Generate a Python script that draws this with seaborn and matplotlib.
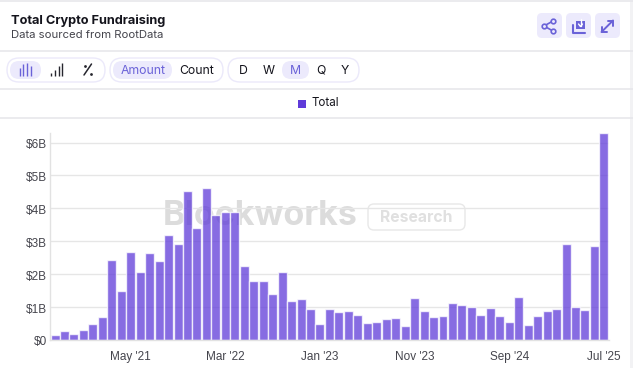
"""
Total Crypto Fundraising, monthly bars with the dashboard header around them
"""

import matplotlib
matplotlib.use('Agg')
import matplotlib.pyplot as plt
from matplotlib.patches import FancyBboxPatch, Rectangle
from matplotlib.transforms import ScaledTranslation
import pandas as pd
import seaborn as sns


## Data
months = pd.date_range('2020-09-01', '2025-07-01', freq='MS').strftime("%b '%y").tolist()
totals = [0.15, 0.27, 0.18, 0.30, 0.49, 0.70, 2.43, 1.49, 2.67, 2.07,
          2.64, 2.40, 3.19, 2.91, 4.52, 3.40, 4.61, 3.80, 3.89, 3.89,
          2.25, 1.79, 1.79, 1.40, 2.07, 1.18, 1.25, 0.94, 0.49, 0.94,
          0.85, 0.88, 0.76, 0.52, 0.55, 0.64, 0.67, 0.43, 1.28, 0.88,
          0.70, 0.73, 1.12, 1.06, 1.00, 0.76, 0.97, 0.73, 0.55, 1.31,
          0.46, 0.73, 0.88, 0.94, 2.92, 1.00, 0.91, 2.86, 6.29]
y_ticks = [0, 1, 2, 3, 4, 5, 6]
y_labels = ['$0', '$1B', '$2B', '$3B', '$4B', '$5B', '$6B']
x_labels = ["May '21", "Mar '22", "Jan '23", "Nov '23", "Sep '24", "Jul '25"]

df = pd.DataFrame({'month': months, 'total': totals})

## Parameters
W, H = 633, 368
purple = '#5f3bd9'
accent = '#6a62d8'
pale = '#eceafc'
rule = '#e6e6ea'
ink = '#14141c'

sns.set_theme(style='white')
plt.rcParams['font.family'] = ['Inter', 'DejaVu Sans']

fig = plt.figure(figsize=(W / 100, H / 100), dpi=100, facecolor='white')

# Pixel canvas behind the chart for the header and watermark
bg = fig.add_axes([0, 0, 1, 1], zorder=0)
bg.set_xlim(0, W)
bg.set_ylim(H, 0)
bg.axis('off')


def rounded(x0, y0, x1, y1, r, fc, ec='none', lw=1.0):
    bg.add_patch(FancyBboxPatch((x0 + r, y0 + r), x1 - x0 - 2 * r, y1 - y0 - 2 * r,
                                boxstyle=f'round,pad={r},rounding_size={r}',
                                fc=fc, ec=ec, lw=lw))


## Header rules
for y in [1, 50.5, 88.5, 117.5]:
    bg.plot([0, W], [y, y], color=rule, lw=1.1)
bg.add_patch(Rectangle((630, 0), 3, H, fc='#f2f2f4', ec='none'))

## Title
bg.text(11, 21, 'Total Crypto Fundraising', fontsize=9.2, fontweight='bold', color=ink, va='center')
bg.text(11, 35.5, 'Data sourced from RootData', fontsize=8.15, color='#44444c', va='center')

## Action buttons
for x0 in [537, 566, 595]:
    rounded(x0, 13, x0 + 25, 38, 5, pale)
# share
bg.plot([553, 544, 553], [21, 26, 31], color=accent, lw=1.2)
bg.scatter([553, 544, 553], [21, 26, 31], s=11, fc=pale, ec=accent, lw=1.2, zorder=3)
# download
bg.add_patch(Rectangle((576, 21), 9, 8, fc=accent, ec='none'))
bg.plot([578.5, 580.5, 582.5], [24, 26.5, 24], color='white', lw=1.0, zorder=3)
bg.plot([580.5, 580.5], [19, 26], color='white', lw=1.0, zorder=3)
bg.plot([572.5, 572.5, 574.5, 585], [25, 32.5, 32.5, 32.5], color=accent, lw=1.5)
# expand
bg.plot([601.5, 613], [32, 20.5], color=accent, lw=1.4)
bg.plot([607.5, 613, 613], [20.5, 20.5, 26], color=accent, lw=1.4)
bg.plot([601.5, 601.5, 607], [26.5, 32, 32], color=accent, lw=1.4)

## Toolbar pills
for x0, x1 in [(7, 105), (110, 223), (228, 359)]:
    rounded(x0, 58, x1, 82, 12, 'white', ec='#ebe9fa')
for x0, x1 in [(10, 41), (113, 172), (282, 309)]:
    rounded(x0, 61, x1, 79, 9, pale)
# chart type icons
for x, h in zip([19.5, 23, 27, 31], [8, 12, 13, 10]):
    bg.plot([x, x], [76, 76 - h], color=accent, lw=1.0, solid_capstyle='butt')
for x, h in zip([51, 55, 59, 62], [3, 6, 10, 13]):
    bg.plot([x, x], [76, 76 - h], color='#26262e', lw=1.0, solid_capstyle='butt')
# percent icon
bg.plot([84, 91.5], [75, 64], color='#26262e', lw=1.1)
bg.scatter([84.5, 91], [66, 74], s=4, color='#26262e', lw=0)
for label, x, color in [('Amount', 143, accent), ('Count', 197, ink), ('D', 243, ink),
                        ('W', 269, ink), ('M', 295.5, accent), ('Q', 321, ink), ('Y', 345, ink)]:
    bg.text(x, 70.5, label, fontsize=8.8, color=color, ha='center', va='center')

## Legend
bg.add_patch(Rectangle((298, 99.5), 8, 8, fc=purple, ec='none'))
bg.text(312, 103.5, 'Total', fontsize=8.4, color=ink, va='center')

## Watermark
bg.text(163, 216, 'Blockworks', fontsize=24.5, fontweight='bold', color='#dcdcdc', va='center')
rounded(368, 204, 465, 230, 6, 'white', ec='#e8e8e8', lw=1.0)
bg.text(416.5, 218, 'Research', fontsize=11.3, fontweight='bold', color='#e0e0e0', ha='center', va='center')

## Chart
ax = fig.add_axes([50.3 / W, 1 - 340 / H, (608.6 - 50.3) / W, 207 / H], zorder=1)
ax.patch.set_alpha(0)
sns.barplot(ax=ax, data=df, x='month', y='total', color=purple, alpha=0.75,
            width=0.95, saturation=1, zorder=2)

ax.set_xlim(-0.5, len(months) - 0.5)
ax.set_ylim(0, 6.29)
ax.set_xlabel('')
ax.set_ylabel('')
ax.set_yticks(y_ticks, y_labels, family='Liberation Sans', fontsize=8.5, color='#45454d',
              va='center_baseline')
ax.set_xticks([months.index(m) for m in x_labels], x_labels, family='Liberation Sans',
              fontsize=8.5, color='#45454d')
ax.tick_params(axis='x', length=0, pad=8)
ax.tick_params(axis='y', length=0, pad=2.5)

# Y labels sit a pixel under their gridlines
for label in ax.get_yticklabels():
    label.set_transform(label.get_transform() + ScaledTranslation(0, -1 / 100, fig.dpi_scale_trans))

ax.grid(axis='y', color='#e6e6e6', lw=1.0, zorder=0)
ax.set_axisbelow(True)
sns.despine(ax=ax, top=True, right=True)
for side in ['left', 'bottom']:
    ax.spines[side].set_color('#e2e2e2')
    ax.spines[side].set_linewidth(1.0)

plt.savefig('out.png', dpi=100)
